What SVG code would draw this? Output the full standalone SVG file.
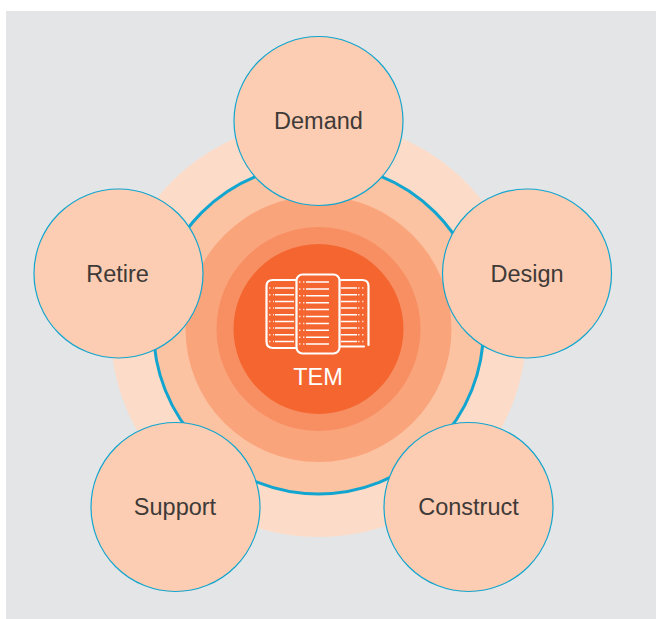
<svg xmlns="http://www.w3.org/2000/svg" width="656" height="619" viewBox="0 0 656 619">
<style>
.sat{fill:#fccdb2;stroke:#12a5cf;stroke-width:1.2}
.lbl{font-family:"Liberation Sans",Arial,sans-serif;font-size:23.5px;fill:#3f3a38;text-anchor:middle}
.ic{fill:none;stroke:#fff;stroke-width:2.2;stroke-linecap:round;stroke-linejoin:round}
.ln{stroke:#fff;stroke-width:1.5;fill:none}
.dt{stroke:#fff;stroke-width:1.5;fill:none;stroke-dasharray:1.5 2.5;opacity:.8}
</style>
<defs>
<g id="rows">
<path d="M0 0H26M0 13.7H26M0 27.4H26M0 41.1H26M0 54.8H26M0 68.5H26M0 82.2H26" />
</g>
</defs>
<rect x="6" y="11" width="650" height="608" fill="#e4e5e7"/>
<g id="hub">
<circle cx="318.500" cy="329" r="208" fill="#fcdcc8"/>
<circle cx="318.500" cy="329" r="165" fill="#fbc3a2" stroke="#12a5cf" stroke-width="3"/>
<circle cx="318.500" cy="329" r="133" fill="#faa47c"/>
<circle cx="318.500" cy="329" r="102" fill="#f78f63"/>
<circle cx="318.500" cy="329" r="85" fill="#f4652f"/>
</g>
<g id="connectors"></g>
<g id="tem-icon">
<path class="ic" d="M296 348H273Q266.500 348 266.500 341.500V286Q266.500 280 273 280H296"/>
<path class="ic" d="M341 280H362Q368.500 280 368.500 286V345M341 346.500H364"/>
<rect class="ic" x="296.500" y="274.500" width="43" height="79" rx="6"/>
<g class="ln" transform="translate(275 288)"><path d="M0 0H19M0 6.700H19M0 13.400H19M0 20H19M0 26.700H19M0 33.400H19M0 40H19M0 46.700H19M0 53.400H19"/></g>
<g class="ln" transform="translate(306 282)"><path d="M0 0H23M0 6.900H23M0 13.800H23M0 20.700H23M0 27.600H23M0 34.500H23M0 41.400H23M0 48.300H23M0 55.200H23M0 62.100H23"/></g>
<g class="ln" transform="translate(341 288)"><path d="M0 0H16M0 6.700H16M0 13.400H16M0 20H16M0 26.700H16M0 33.400H16M0 40H16M0 46.700H16M0 53.400H16"/></g>
<g class="dt" transform="translate(269 288)"><path d="M0 0H5M0 6.700H5M0 13.400H5M0 20H5M0 26.700H5M0 33.400H5M0 40H5M0 46.700H5M0 53.400H5"/></g>
<g class="dt" transform="translate(299 282)"><path d="M0 0H6M0 6.900H6M0 13.800H6M0 20.700H6M0 27.600H6M0 34.500H6M0 41.400H6M0 48.300H6M0 55.200H6M0 62.100H6"/></g>
<g class="dt" transform="translate(358 288)"><path d="M0 0H8M0 6.700H8M0 13.400H8M0 20H8M0 26.700H8M0 33.400H8M0 40H8M0 46.700H8M0 53.400H8"/></g>
<text x="318" y="385" font-family="'Liberation Sans',Arial,sans-serif" font-size="23.500" fill="#fff" text-anchor="middle">TEM</text>
</g>
<g id="demand"><circle class="sat" cx="318.500" cy="121" r="84.500"/><text class="lbl" x="318.500" y="129">Demand</text></g>
<g id="design"><circle class="sat" cx="527" cy="273.500" r="84.500"/><text class="lbl" x="527" y="282">Design</text></g>
<g id="construct"><circle class="sat" cx="468.500" cy="507" r="84.500"/><text class="lbl" x="468.500" y="515">Construct</text></g>
<g id="support"><circle class="sat" cx="175.500" cy="507" r="84.500"/><text class="lbl" x="175" y="515">Support</text></g>
<g id="retire"><circle class="sat" cx="118.500" cy="273.500" r="84.500"/><text class="lbl" x="117.500" y="282">Retire</text></g>
</svg>
